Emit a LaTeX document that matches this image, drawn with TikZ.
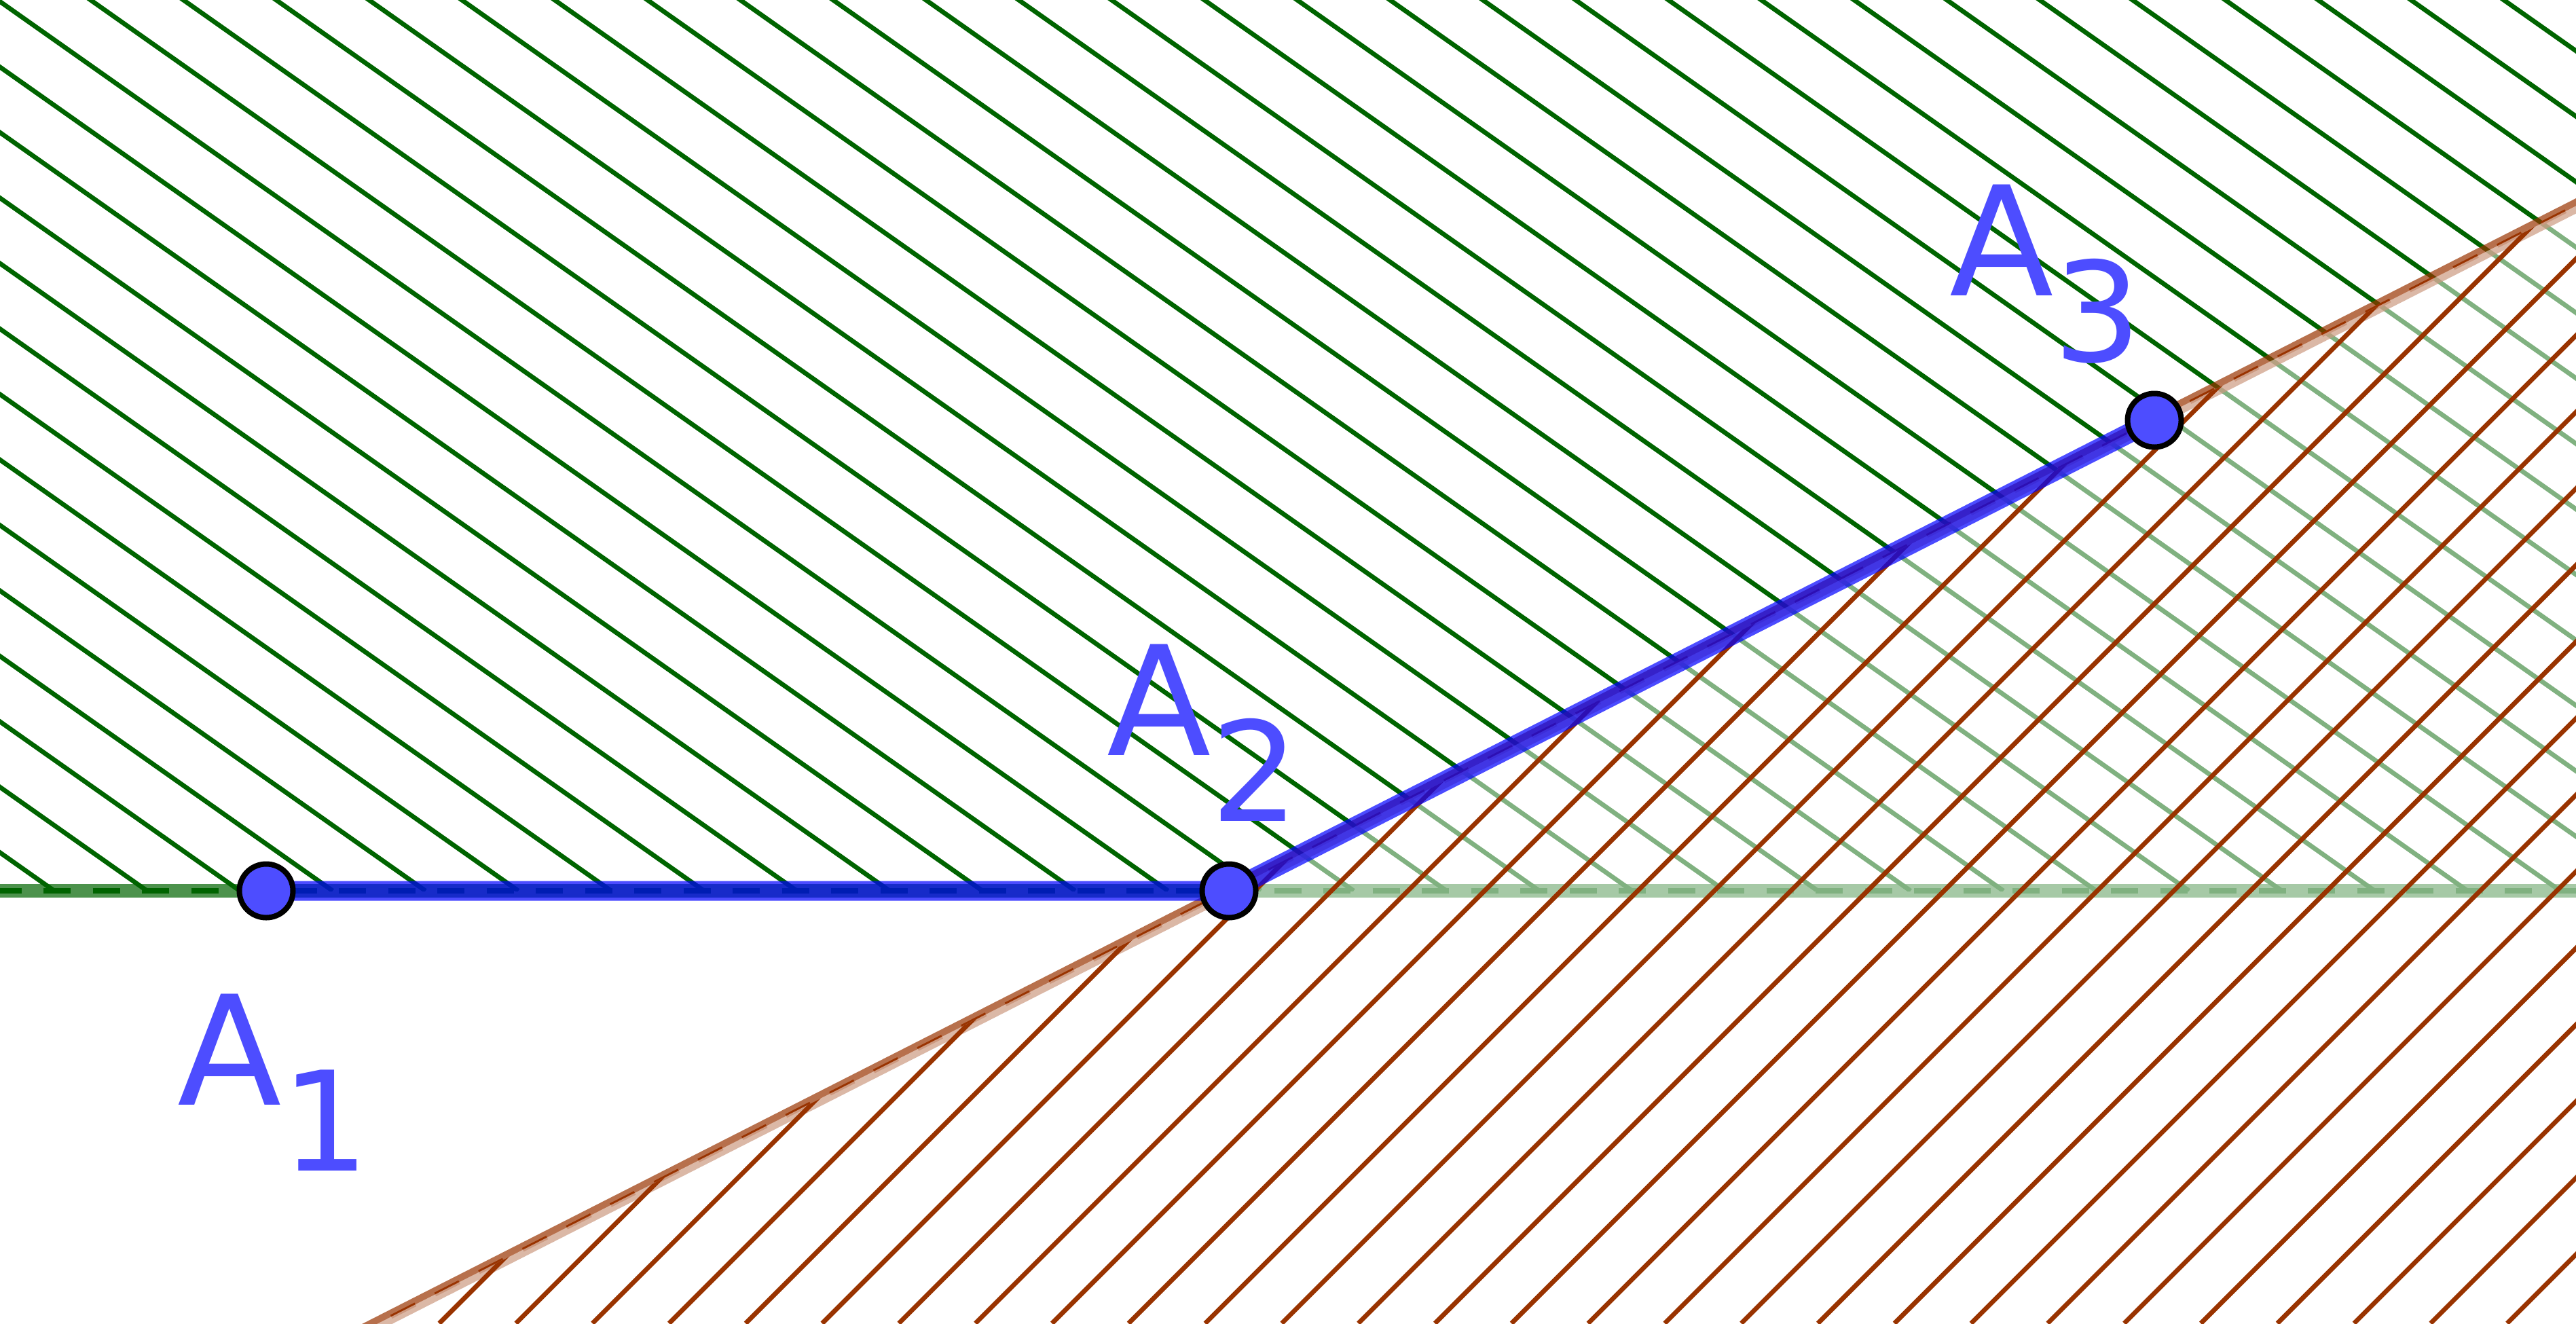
\documentclass[tikz,border=0pt]{standalone}
\usepackage{fontspec}
\setmainfont{DejaVu Sans}
\usetikzlibrary{calc}
\definecolor{hgreen}{RGB}{0,100,0}
\definecolor{hbrown}{RGB}{153,51,0}
\definecolor{segblue}{RGB}{0,0,255}
\definecolor{ptblue}{RGB}{77,77,255}
\newcommand{\vlabel}[1]{A\raisebox{-13.8pt}{\fontsize{29}{32}\selectfont #1}}

\begin{document}
\begin{tikzpicture}
    \tikzset{
        greenhatch/.style={draw=hgreen, line width=0.034cm},
        brownhatch/.style={draw=hbrown, line width=0.034cm},
        greenedge/.style={draw=hgreen, draw opacity=0.7, line width=0.1cm},
        brownedge/.style={draw=hbrown, draw opacity=0.7, line width=0.1cm},
        greendash/.style={draw=hgreen, line width=0.04cm, dash pattern=on 0.2cm off 0.1625cm},
        browndash/.style={draw=hbrown, line width=0.03cm, dash pattern=on 0.2cm off 0.1625cm},
        seg/.style={draw=segblue, draw opacity=0.7, line width=0.145cm},
        pt/.style={circle, fill=ptblue, draw=black, line width=0.04cm, inner sep=0pt, minimum size=0.395cm},
        vtx/.style={text=ptblue, font=\fontsize{31.9}{36}\selectfont, inner sep=0pt, anchor=base west}
    }

    \useasboundingbox (0,0) rectangle (18.97,9.745);
    \clip (0,0) rectangle (18.97,9.745);

    % Vertices of the polyline
    \coordinate (a1) at (1.96,3.185);
    \coordinate (a2) at (9.05,3.185);
    \coordinate (a3) at (15.865,6.65);

    % Ends of the two boundary lines
    \coordinate (gl) at (-0.0425,3.185);
    \coordinate (gr) at (19.2,3.185);
    \coordinate (bl) at ($(a2)!-1!(a3)$);
    \coordinate (br) at ($(a2)!2!(a3)$);

    % Green half-plane (above the horizontal line)
    \begin{scope}
        \clip (-1,3.185) rectangle (20,10);
        \foreach \k in {-15,...,29}
            \draw[greenhatch] ({9.285+0.6835*\k},3.185) -- ++(-9.5,6.7);
    \end{scope}
    \draw[greenedge] (gl) -- (gr);
    \draw[greendash] (gl) -- (gr);

    % Brown half-plane (below the line through A2 and A3)
    \draw[brownedge] (bl) -- (br);
    \draw[browndash] (bl) -- (br);
    \fill[white, fill opacity=0.5] (bl) -- (br) -- (br |- bl) -- cycle;
    \begin{scope}
        \clip (bl) -- (br) -- (br |- bl) -- cycle;
        \foreach \k in {-6,...,23}
            \draw[brownhatch] ({6.055+0.564*\k},0) -- ++(10,10);
    \end{scope}

    % Segments
    \draw[seg] (a1) -- (a2) -- (a3);

    % Points and labels
    \node[pt] (A1) at (a1) {};
    \node[pt] (A2) at (a2) {};
    \node[pt] (A3) at (a3) {};

    \node[vtx] (l1) at (1.3,1.61) {\vlabel{1}};
    \node[vtx] (l2) at (8.145,4.185) {\vlabel{2}};
    \node[vtx] (l3) at (14.35,7.57) {\vlabel{3}};

\end{tikzpicture}
\end{document}
